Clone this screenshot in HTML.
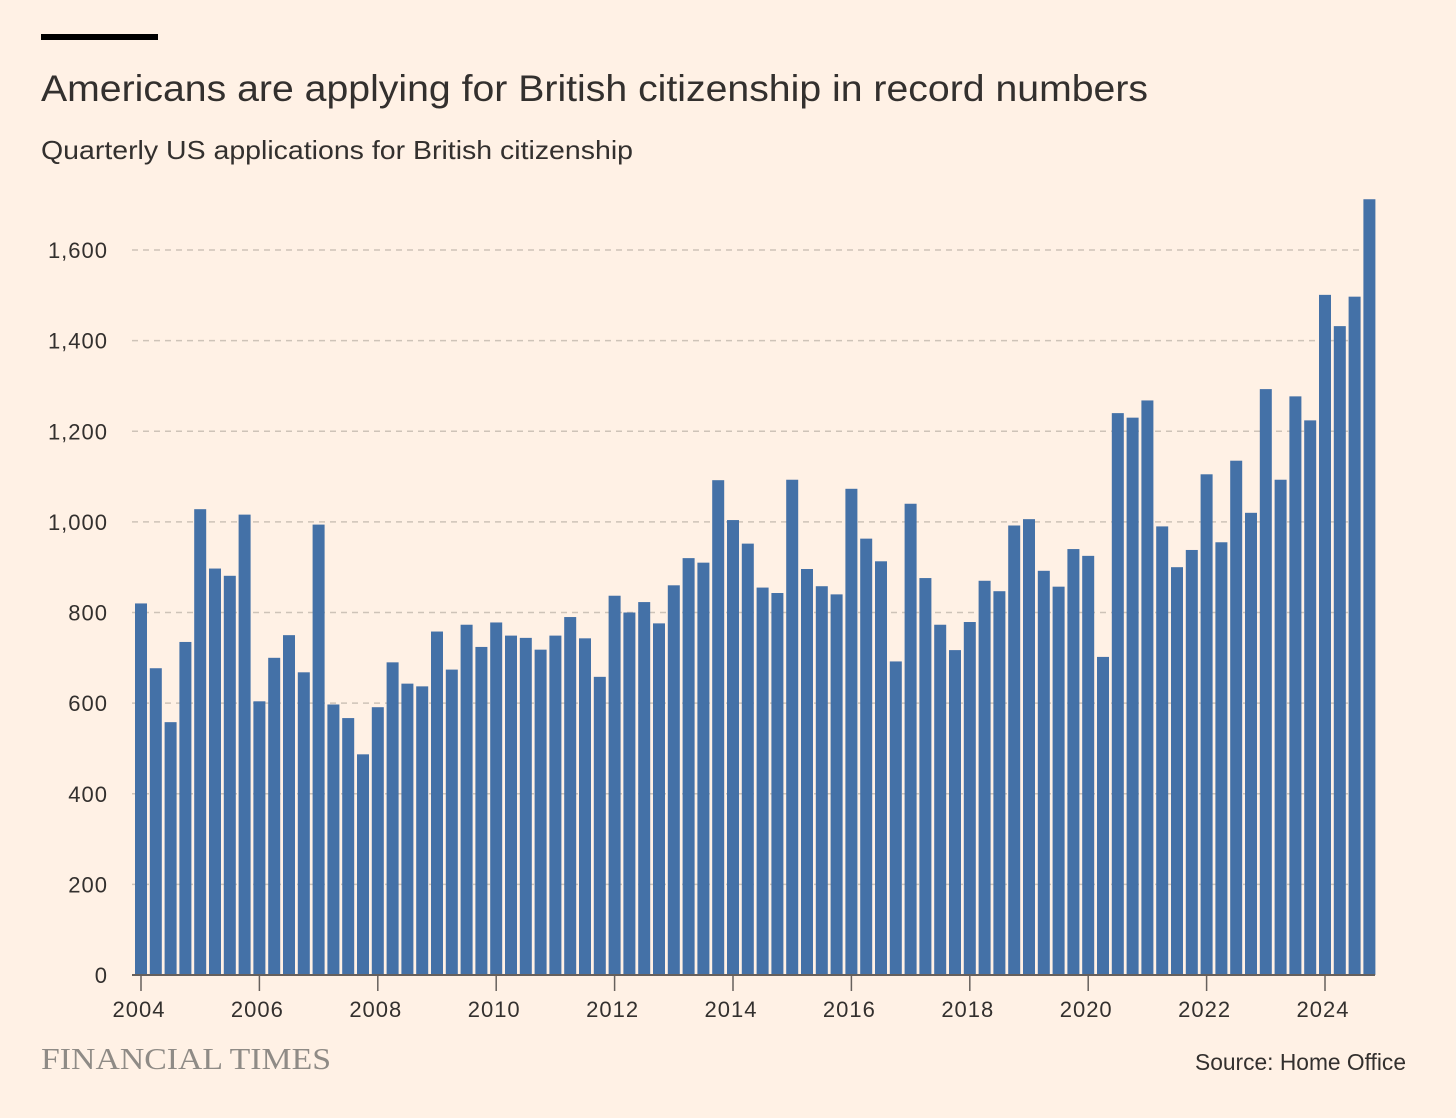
<!DOCTYPE html>
<html><head><meta charset="utf-8"><style>
body{margin:0;background:#fff1e5;font-family:"Liberation Sans",sans-serif;}
#wrap{position:relative;width:1456px;height:1118px;overflow:hidden;background:#fff1e5;}
</style></head><body>
<div id="wrap">
<svg id="chart" width="1456" height="1118">
<rect x="41" y="34" width="117" height="6" fill="#000"/>
<text x="41" y="101" font-size="37" fill="#33302e" textLength="1107" lengthAdjust="spacingAndGlyphs">Americans are applying for British citizenship in record numbers</text>
<text x="41" y="159" font-size="26" fill="#33302e" textLength="592" lengthAdjust="spacingAndGlyphs">Quarterly US applications for British citizenship</text>
<g id="grid"></g><g id="bars"></g><g id="axes"></g>
<text x="41" y="1069" font-size="31" fill="#8f8b86" font-family="Liberation Serif,serif" textLength="290" lengthAdjust="spacingAndGlyphs">FINANCIAL TIMES</text>
<text x="1406" y="1070" font-size="23" fill="#33302e" text-anchor="end" textLength="211" lengthAdjust="spacingAndGlyphs">Source: Home Office</text>
</svg>
</div>
<script>
const startYear = 2004;
const values = [820,677,558,735, 1028,897,881,1016, 604,700,750,668, 994,597,567,487,
591,690,643,637, 758,674,773,724, 778,749,744,718, 749,790,743,658, 837,800,823,776,
860,920,910,1092, 1004,952,855,843, 1093,896,858,840, 1073,963,913,692, 1040,876,773,717,
779,870,847,992, 1006,892,857,940, 925,702,1240,1230, 1268,990,900,938, 1105,955,1135,1020,
1293,1093,1277,1224, 1501,1432,1497,1712];
const yTicks = [0,200,400,600,800,1000,1200,1400,1600];
const xTicks = [2004,2006,2008,2010,2012,2014,2016,2018,2020,2022,2024];
const NS="http://www.w3.org/2000/svg";
const y0=975, yScale=725/1600;
const y=v=>y0-v*yScale;
const x=q=>141+q*14.8;
function mk(t,a,p){const e=document.createElementNS(NS,t);for(const k in a)e.setAttribute(k,a[k]);p.appendChild(e);return e;}
const grid=document.getElementById('grid'),bars=document.getElementById('bars'),axes=document.getElementById('axes');
yTicks.forEach(v=>{
 if(v>0){const l=mk('line',{x1:132,x2:1375,y1:y(v),y2:y(v),stroke:'#cec3b8','stroke-width':1.5,'stroke-dasharray':'6,5'},grid);
 
 }
 const t=mk('text',{x:108,y:y(v)+8,'font-size':22,fill:'#33302e','text-anchor':'end','letter-spacing':'1'},axes);
 t.textContent=v.toLocaleString('en-US');
 
 
});
values.forEach((v,i)=>{
 const r=mk('rect',{x:x(i)-6,y:y(v),width:12,height:v*yScale,fill:'#4471a7'},bars);
 
 
});
const ax=mk('line',{x1:132,x2:1375,y1:y0,y2:y0,stroke:'#66605c','stroke-width':2},axes);


xTicks.forEach(yr=>{
 const px=x((yr-startYear)*4);
 const tk=mk('line',{x1:px,x2:px,y1:y0,y2:y0+16,stroke:'#66605c','stroke-width':1.5},axes);
 
 
 const t=mk('text',{x:px-2,y:1017,'font-size':22,fill:'#33302e','text-anchor':'middle','letter-spacing':'1'},axes);
 t.textContent=yr;
 
 
});
</script>
</body></html>
